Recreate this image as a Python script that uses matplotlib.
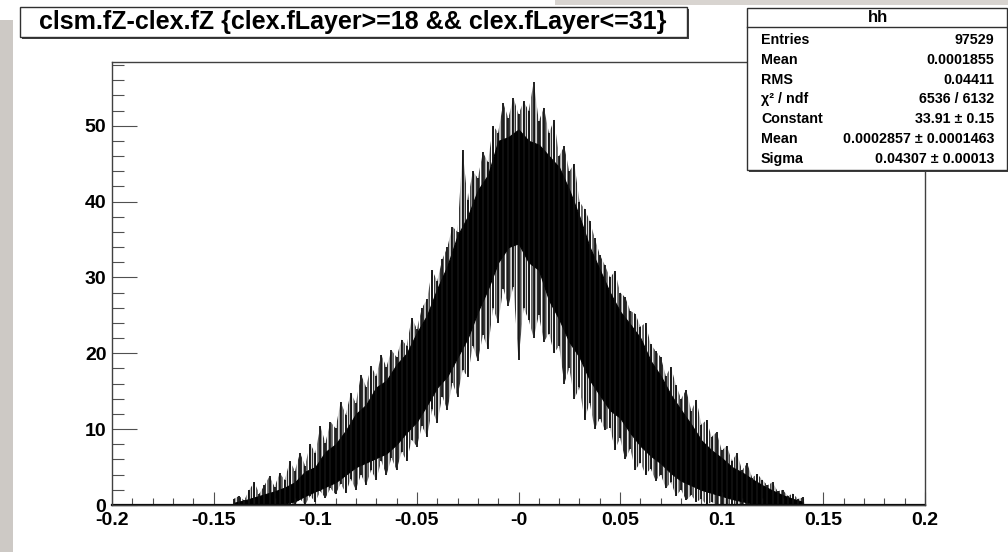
import numpy as np
import matplotlib.pyplot as plt
from matplotlib.patches import Rectangle
from matplotlib.ticker import MultipleLocator

# Thong tin histogram hh (ROOT): clsm.fZ - clex.fZ
title = "clsm.fZ-clex.fZ {clex.fLayer>=18 && clex.fLayer<=31}"
stat_names = ["Entries", "Mean", "RMS", "\u03c7\u00b2 / ndf", "Constant", "Mean", "Sigma"]
stat_values = ["97529", "0.0001855", "0.04411", "6536 / 6132",
               "33.91 \u00b1 0.15", "0.0002857 \u00b1 0.0001463", "0.04307 \u00b1 0.00013"]

# Dai den dac (loi) cua histogram, buoc 0.005 tu -0.14 den 0.14
core_hi = [0.3, 0.6, 1.0, 1.4, 1.8, 2.3, 3.0, 4.4, 5.0, 7.0, 8.0, 9.8, 12.0, 13.2,
           15.5, 16.4, 18.5, 20.0, 22.7, 25.0, 28.5, 31.5, 35.5, 38.0, 41.5, 43.5,
           48.0, 48.5, 49.5, 48.0, 47.5, 46.0, 44.5, 41.5, 38.0, 34.0, 31.0, 28.0,
           25.5, 23.8, 22.0, 19.0, 17.0, 14.5, 12.5, 10.6, 8.5, 7.2, 6.2, 5.0, 4.3,
           3.4, 2.6, 1.9, 1.3, 0.8, 0.4]
core_lo = [0, 0, 0, 0, 0, 0.2, 0.5, 1.2, 1.8, 2.4, 3.0, 4.0, 5.0, 5.6, 6.2, 6.8,
           8.0, 9.6, 11.0, 13.2, 15.5, 17.0, 19.5, 22.0, 25.5, 28.5, 32.0, 34.0,
           34.5, 32.0, 31.0, 27.0, 24.5, 21.5, 19.5, 16.5, 14.5, 12.5, 11.5, 9.5,
           7.8, 6.5, 5.5, 4.2, 3.2, 2.6, 2.0, 1.6, 1.2, 0.8, 0.5, 0.2, 0, 0, 0, 0, 0]

# Dinh va day cua cac gai nhieu, buoc 0.0025 tu -0.14 den 0.14
spike_hi = [0.8, 1.2, 0.6, 2.0, 3.0, 1.5, 2.6, 3.8, 2.4, 4.2, 3.3, 5.8, 4.5, 6.9,
            5.2, 8.1, 6.8, 10.4, 8.2, 11.0, 10.1, 13.6, 11.9, 14.8, 13.4, 17.2,
            15.6, 18.3, 17.0, 19.8, 18.2, 20.4, 19.5, 21.8, 21.0, 24.7, 23.2, 26.0,
            27.1, 31.0, 29.5, 32.4, 34.0, 36.7, 36.0, 46.8, 40.2, 44.0, 43.1, 46.5,
            45.2, 50.0, 49.1, 53.0, 51.0, 53.7, 51.5, 53.2, 52.0, 55.8, 50.6, 52.4,
            49.0, 50.8, 46.0, 47.3, 44.0, 45.0, 40.0, 39.0, 37.5, 35.2, 33.0, 31.6,
            30.0, 30.8, 28.0, 27.4, 25.6, 25.2, 23.5, 24.0, 21.2, 20.3, 19.5, 17.0,
            18.2, 15.8, 14.0, 15.2, 12.4, 13.9, 10.6, 11.2, 9.0, 9.6, 7.2, 7.8, 5.8,
            6.8, 4.6, 5.5, 3.6, 4.1, 3.3, 2.6, 3.0, 1.8, 2.0, 1.2, 1.5, 0.8, 1.0]
spike_lo = [0, 0, 0, 0, 0, 0, 0, 0, 0, 0, 0, 0, 0, 0.8, 0, 1.2, 0.4, 1.8, 0.9, 2.2,
            1.4, 2.8, 1.6, 3.4, 2.0, 4.0, 2.6, 4.6, 3.3, 5.8, 3.9, 6.2, 4.6, 7.0, 5.8,
            8.6, 7.7, 10.4, 9.0, 12.6, 10.8, 14.3, 12.5, 16.1, 14.3, 17.8, 16.9, 21.0,
            19.0, 22.4, 20.6, 26.0, 24.0, 28.5, 26.2, 28.8, 19.1, 26.0, 24.4, 22.0,
            25.0, 21.5, 22.6, 20.0, 21.0, 16.0, 18.0, 14.0, 15.5, 11.2, 13.5, 10.0,
            11.4, 9.9, 10.2, 7.3, 8.8, 6.0, 7.4, 4.6, 5.6, 4.0, 4.8, 3.2, 4.0, 2.2,
            3.0, 1.2, 2.0, 0.6, 1.3, 0.4, 0.8, 0, 0.4, 0,
            0, 0, 0, 0, 0, 0, 0, 0, 0, 0, 0, 0, 0, 0, 0, 0, 0]

x_core = np.linspace(-0.14, 0.14, len(core_hi))
x_spike = np.linspace(-0.14, 0.14, len(spike_hi))

W, H = 1008, 552
plt.rcParams['font.family'] = ['Liberation Sans', 'DejaVu Sans']
plt.rcParams['font.weight'] = 'bold'
plt.rcParams['hatch.linewidth'] = 1.0

fig = plt.figure(figsize=(W / 100, H / 100), dpi=100)
fig.patch.set_facecolor('white')


def khung(x0, y0, x1, y1, **kw):
    # toa do pixel (goc tren trai) -> toa do figure
    r = Rectangle((x0 / W, 1 - y1 / H), (x1 - x0) / W, (y1 - y0) / H,
                  transform=fig.transFigure, **kw)
    fig.add_artist(r)
    return r


# vien xam cua slide
khung(0, 20, 13, H, facecolor='#cdc9c5', edgecolor='none')
khung(555, 0, W, 5, facecolor='#d8d4d0', edgecolor='none')

ax = fig.add_axes([112 / W, 1 - 505 / H, (925 - 112) / W, (505 - 62) / H])
ax.set_xlim(-0.2, 0.2)
ax.set_ylim(0, 58.4)

# gai nhieu + loi den
ax.fill_between(x_spike, spike_lo, spike_hi, facecolor='none', edgecolor='#303030',
                hatch='||||||', linewidth=0)
ax.vlines(x_spike, spike_lo, spike_hi, color='#111111', linewidth=1.3)
ax.fill_between(x_core, core_lo, core_hi, color='black', linewidth=0.8)
ax.axhline(0, color='black', linewidth=1.6, clip_on=False)

for s in ax.spines.values():
    s.set_color('#404040')
    s.set_linewidth(1.0)

ax.xaxis.set_major_locator(MultipleLocator(0.05))
ax.xaxis.set_minor_locator(MultipleLocator(0.01))
ax.yaxis.set_major_locator(MultipleLocator(10))
ax.yaxis.set_minor_locator(MultipleLocator(2))
ax.tick_params(axis='both', which='both', direction='in', top=False, right=False,
               color='#505050', width=0.8, labelsize=14)
ax.tick_params(axis='y', which='major', length=18, pad=4)
ax.tick_params(axis='y', which='minor', length=8.5)
ax.tick_params(axis='x', which='major', length=9.5, pad=5)
ax.tick_params(axis='x', which='minor', length=5)


def nhan_x(v, pos):
    s = ('%g' % round(v, 4))
    return '-0' if abs(v) < 1e-9 else s


ax.xaxis.set_major_formatter(plt.FuncFormatter(nhan_x))

# khung tieu de
khung(22, 9, 689, 39, facecolor='#404040', edgecolor='none')
khung(20, 7, 687, 37, facecolor='white', edgecolor='#303030', linewidth=1.0)
fig.text(353 / W, 1 - 22 / H, title, ha='center', va='center', fontsize=18,
         fontweight='bold')

# hop thong ke
khung(749, 10, 1010, 172, facecolor='#404040', edgecolor='none', zorder=5)
khung(747, 8, 1007, 170, facecolor='white', edgecolor='#303030', linewidth=1.0, zorder=6)
fig.add_artist(plt.Line2D([747 / W, 1007 / W], [1 - 27 / H, 1 - 27 / H],
                          transform=fig.transFigure, color='#303030', linewidth=1.0, zorder=7))
fig.text(878 / W, 1 - 17.5 / H, 'hh', ha='center', va='center', fontsize=12, zorder=8)
for i, (ten, gt) in enumerate(zip(stat_names, stat_values)):
    yy = 1 - (40 + i * 19.8) / H
    fig.text(761 / W, yy, ten, ha='left', va='center', fontsize=10.3, zorder=8)
    fig.text(994 / W, yy, gt, ha='right', va='center', fontsize=10.3, zorder=8)

fig.savefig('out.png', dpi=100)
